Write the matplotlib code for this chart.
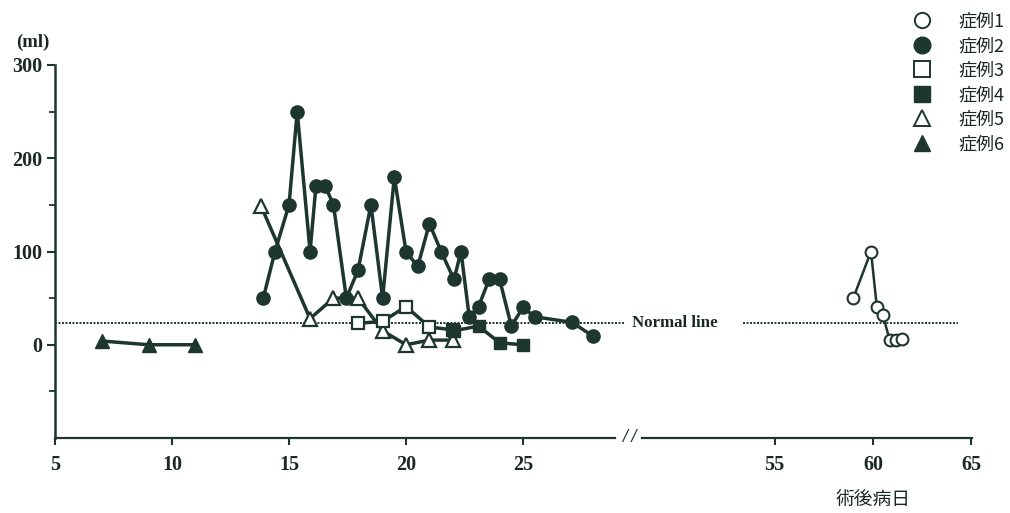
import matplotlib
matplotlib.use("Agg")
import matplotlib.pyplot as plt
from matplotlib.lines import Line2D

# ---------------- data ----------------
case1_x = [59.0, 59.9, 60.2, 60.5, 60.85, 61.15, 61.5]
case1_y = [50, 100, 40, 32, 5, 5, 6]

case2_x = [13.9, 14.4, 15.0, 15.35, 15.9, 16.15, 16.55, 16.9, 17.45, 17.95,
           18.5, 19.0, 19.5, 20.0, 20.5, 21.0, 21.5, 22.05, 22.35, 22.7,
           23.1, 23.55, 24.0, 24.5, 25.0, 25.5, 27.1, 28.0]
case2_y = [50, 100, 150, 250, 100, 170, 170, 150, 50, 80,
           150, 50, 180, 100, 84, 130, 100, 70, 100, 30,
           41, 70, 70, 20, 40, 30, 24, 9]

case3_x = [17.95, 19.0, 20.0, 21.0, 22.0]
case3_y = [23, 25, 41, 19, 16]

case4_x = [22.05, 23.1, 24.0, 25.0]
case4_y = [15, 20, 2, 0]

case5_x = [13.8, 15.9, 16.9, 17.95, 19.0, 20.0, 21.0, 22.0]
case5_y = [149, 28, 50, 50, 15, 0, 5, 5]

case6_x = [7, 9, 11]
case6_y = [4, 0, 0]

legend_labels = ["症例1", "症例2", "症例3", "症例4", "症例5", "症例6"]
normal_level = 23
yticks = [0, 100, 200, 300]
yminor = [-50, 50, 150, 250]
left_xticks = [5, 10, 15, 20, 25]
right_xticks = [55, 60, 65]

# ---------------- style ----------------
C = "#1d362f"
TXT = "#1a2824"
W, H = 1010, 513
fig = plt.figure(figsize=(W / 100, H / 100), dpi=100)

def fx(px):
    return px / W

def fy(py):
    return 1 - py / H

top_px, bot_px = 65, 438
axL = fig.add_axes([fx(55), fy(bot_px), fx(615 - 55), (bot_px - top_px) / H])
axR = fig.add_axes([fx(642), fy(bot_px), fx(972 - 642), (bot_px - top_px) / H])

serif = dict(family="Liberation Serif", weight="bold")
cjk = ["Noto Sans CJK JP", "DejaVu Sans"]

for ax in (axL, axR):
    ax.set_ylim(-100, 300)
    for s in ("top", "right"):
        ax.spines[s].set_visible(False)
    ax.spines["bottom"].set_color(C)
    ax.spines["bottom"].set_linewidth(1.6)
    ax.tick_params(axis="x", direction="out", length=5, width=1.5, color=C,
                   labelsize=14.5, labelcolor=TXT, pad=7)
    ax.patch.set_alpha(0)

axL.set_xlim(5, 28.93)
axR.set_xlim(48.27, 65.03)
axL.spines["left"].set_color(C)
axL.spines["left"].set_linewidth(1.8)
axR.spines["left"].set_visible(False)
axR.set_yticks([])
axL.set_yticks(yticks)
axL.set_yticks(yminor, minor=True)
axL.tick_params(axis="y", which="major", direction="out", length=6, width=1.5,
                color=C, labelsize=14.5, labelcolor=TXT, pad=3)
axL.tick_params(axis="y", which="minor", direction="out", length=4, width=1.3, color=C)
axL.set_xticks(left_xticks)
axR.set_xticks(right_xticks)
for ax in (axL, axR):
    for lab in ax.get_xticklabels() + ax.get_yticklabels():
        lab.set_fontfamily("Liberation Serif")
        lab.set_fontweight("bold")

lw = 2.5
# Case 6 (filled triangles)
axL.plot(case6_x, case6_y, color=C, lw=lw, marker="^", ms=10.5, mfc=C, mec=C, zorder=3)
# Case 5 (open triangles)
axL.plot(case5_x, case5_y, color=C, lw=lw, marker="^", ms=10.5, mfc="white", mec=C, mew=1.6, zorder=4)
# Case 3 (open squares)
axL.plot(case3_x, case3_y, color=C, lw=lw, marker="s", ms=9, mfc="white", mec=C, mew=1.6, zorder=4)
# Case 4 (filled squares)
axL.plot(case4_x, case4_y, color=C, lw=lw, marker="s", ms=9, mfc=C, mec=C, zorder=4)
# Case 2 (filled circles)
axL.plot(case2_x, case2_y, color=C, lw=lw, marker="o", ms=9.5, mfc=C, mec=C, zorder=5)
# Case 1 (open circles)
axR.plot(case1_x, case1_y, color=C, lw=1.8, marker="o", ms=8.5, mfc="white", mec=C, mew=1.5, zorder=5)

# normal line
axL.plot([5, 29.35], [normal_level, normal_level], color=C, lw=1.4,
         ls=(0, (1, 0.8)), clip_on=False, zorder=2)
axR.plot([53.4, 64.3], [normal_level, normal_level], color=C, lw=1.4,
         ls=(0, (1, 0.8)), clip_on=False, zorder=2)
fig.text(fx(632), fy(323), "Normal line", ha="left", va="center",
         fontsize=12.2, color=TXT, **serif)

# axis break
fig.text(fx(629), fy(437), "/ /", ha="center", va="center", fontsize=13,
         color=TXT, style="italic", weight="bold", family="Liberation Serif")

# unit label and x label
fig.text(fx(33), fy(42), "(ml)", ha="center", va="center", fontsize=13.5,
         color=TXT, **serif)
fig.text(fx(873), fy(500), "術後病日", ha="center", va="center", fontsize=13.5,
         color=TXT, family=cjk)

# legend
handles = [
    Line2D([], [], ls="none", marker="o", ms=11, mfc="white", mec=C, mew=1.4),
    Line2D([], [], ls="none", marker="o", ms=12, mfc=C, mec=C),
    Line2D([], [], ls="none", marker="s", ms=11, mfc="white", mec=C, mew=1.4),
    Line2D([], [], ls="none", marker="s", ms=11, mfc=C, mec=C),
    Line2D([], [], ls="none", marker="^", ms=11, mfc="white", mec=C, mew=1.4),
    Line2D([], [], ls="none", marker="^", ms=11, mfc=C, mec=C),
]
leg = fig.legend(handles, legend_labels, loc="upper left",
                 bbox_to_anchor=(fx(897), fy(0)), frameon=False,
                 prop={"family": cjk, "size": 13}, labelspacing=0.36,
                 handletextpad=1.3, handlelength=1.4, borderpad=0.2)
for t in leg.get_texts():
    t.set_color(TXT)

fig.savefig("out.png", dpi=100)
